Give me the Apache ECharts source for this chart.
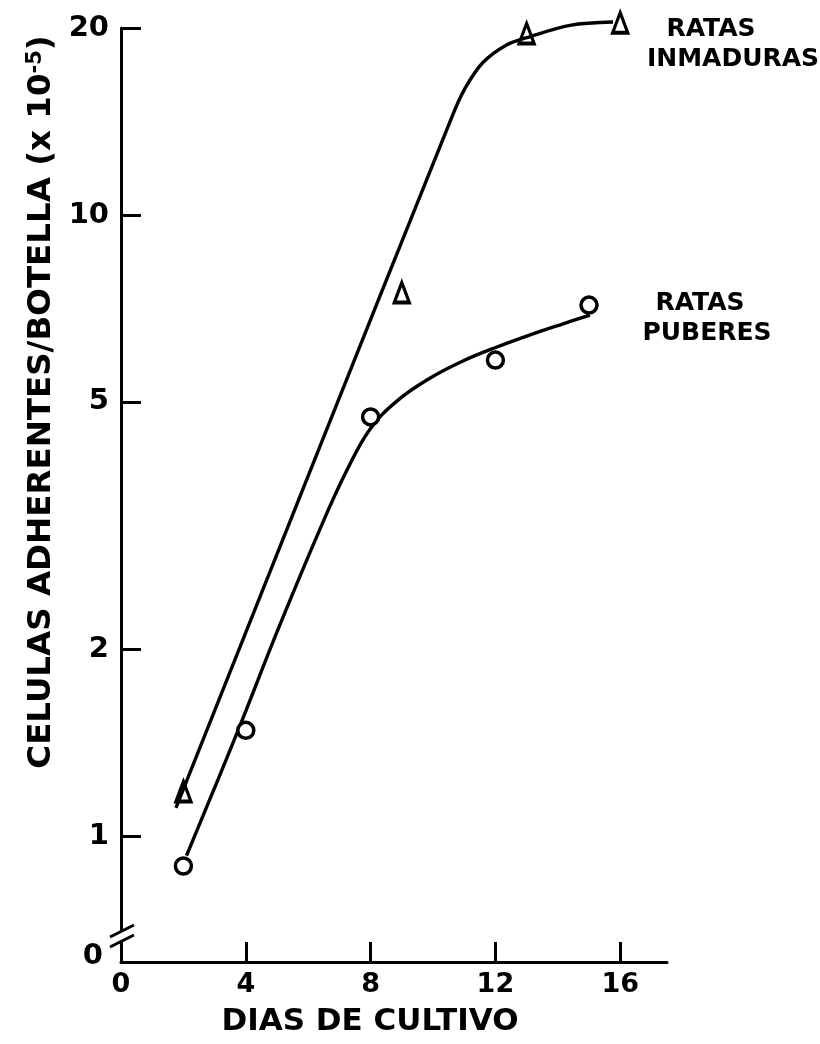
<!DOCTYPE html>
<html>
<head>
<meta charset="utf-8">
<script src="https://cdn.jsdelivr.net/npm/echarts@6/dist/echarts.min.js"></script>
<style>
  html, body { margin: 0; padding: 0; background: #fff; }
  #chart { width: 820px; height: 1044px; }
</style>
</head>
<body>
<div id="chart"></div>
<script>
// Measured points (days in culture, adherent cells per bottle x 10^-5)
const daysInmaduras = [2, 9, 13, 16];
const cellsInmaduras = [1.18, 7.5, 19.6, 20.4];
const daysPuberes = [2, 4, 8, 12, 15];
const cellsPuberes = [0.895, 1.48, 4.73, 5.84, 7.16];

// Hand-fitted growth curves through each group
const fitDaysInmaduras = [1.76, 6.0, 10.61, 11.03, 11.6, 12.37, 13.01, 14.39, 15.77];
const fitCellsInmaduras = [1.11, 3.8, 14.4, 16.0, 17.6, 18.8, 19.3, 20.2, 20.45];
const fitDaysPuberes = [2.1, 3.72, 5.03, 6.47, 7.24, 7.98, 8.85, 9.9, 10.96, 12.05, 13.11, 14.17, 15.03];
const fitCellsPuberes = [0.93, 1.466, 2.15, 3.2, 3.88, 4.52, 5.02, 5.46, 5.82, 6.13, 6.41, 6.68, 6.9];

// Axis ticks and labels
const xTickValues = [4, 8, 12, 16];
const xLabelValues = [0, 4, 8, 12, 16];
const yTickValues = [1, 2, 5, 10, 20];
const yAxisMin = 0.627;   // broken axis: bottom of the scale is labelled 0
const yAxisMax = 20;
const xAxisMax = 17.5;

const seriesNames = [['RATAS', 'INMADURAS'], ['RATAS', 'PUBERES']];
const xTitle = 'DIAS DE CULTIVO';
const yTitle = 'CELULAS ADHERENTES/BOTELLA (x 10{sup|-5})';

const FONT = 'DejaVu Sans';
const GRID = { left: 121, top: 28, right: 153, bottom: 82 };
const baseY = 1044 - GRID.bottom;

const zip = (xs, ys) => xs.map((x, i) => [x, ys[i]]);

const nameText = (text, x, y) => ({
  type: 'text',
  x: x, y: y,
  style: {
    text: text, fill: '#000', font: 'bold 25px "' + FONT + '"',
    textAlign: 'center', textVerticalAlign: 'middle'
  },
  z: 100
});

const chart = echarts.init(document.getElementById('chart'), null, { renderer: 'canvas' });

const option = {
  animation: false,
  backgroundColor: '#fff',
  grid: GRID,
  xAxis: {
    type: 'value',
    min: 0,
    max: xAxisMax,
    axisLine: { lineStyle: { color: '#000', width: 3 } },
    axisTick: { inside: true, length: 20, lineStyle: { color: '#000', width: 3 }, customValues: xTickValues },
    axisLabel: {
      customValues: xLabelValues,
      margin: 9,
      color: '#000',
      fontFamily: FONT,
      fontWeight: 'bold',
      fontSize: 27
    },
    splitLine: { show: false }
  },
  yAxis: {
    type: 'log',
    logBase: 10,
    min: yAxisMin,
    max: yAxisMax,
    axisLine: { lineStyle: { color: '#000', width: 3 } },
    axisTick: { inside: true, length: 20, lineStyle: { color: '#000', width: 3 }, customValues: yTickValues },
    axisLabel: {
      customValues: [yAxisMin].concat(yTickValues),
      margin: 12,
      color: '#000',
      fontFamily: FONT,
      fontWeight: 'bold',
      fontSize: 29,
      formatter: v => (v < 0.9 ? '{z|0}' : String(Math.round(v))),
      rich: {
        z: { fontFamily: FONT, fontWeight: 'bold', fontSize: 29, color: '#000', padding: [0, 6, 12, 0] }
      }
    },
    splitLine: { show: false }
  },
  series: [
    {
      name: 'fit-inmaduras',
      type: 'line',
      data: zip(fitDaysInmaduras, fitCellsInmaduras),
      showSymbol: false,
      smooth: 0.35,
      clip: false,
      lineStyle: { color: '#000', width: 3.4 },
      silent: true,
      z: 2
    },
    {
      name: 'fit-puberes',
      type: 'line',
      data: zip(fitDaysPuberes, fitCellsPuberes),
      showSymbol: false,
      smooth: 0.4,
      clip: false,
      lineStyle: { color: '#000', width: 3.4 },
      silent: true,
      z: 2
    },
    {
      name: 'inmaduras',
      type: 'scatter',
      data: zip(daysInmaduras, cellsInmaduras),
      symbol: 'triangle',
      symbolSize: [15, 20],
      clip: false,
      itemStyle: { color: 'rgba(255,255,255,0)', borderColor: '#000', borderWidth: 3.5, opacity: 1 },
      silent: true,
      z: 3
    },
    {
      name: 'puberes',
      type: 'scatter',
      data: zip(daysPuberes, cellsPuberes),
      symbol: 'circle',
      symbolSize: 16,
      clip: false,
      itemStyle: { color: '#fff', borderColor: '#000', borderWidth: 3.5, opacity: 1 },
      silent: true,
      z: 3
    }
  ],
  graphic: [
    // axis break on the y axis near the origin
    {
      type: 'rect',
      shape: { x: GRID.left - 5, y: baseY - 31, width: 10, height: 11 },
      style: { fill: '#fff' },
      z: 100
    },
    {
      type: 'line',
      shape: { x1: GRID.left - 11, y1: baseY - 25, x2: GRID.left + 13, y2: baseY - 37 },
      style: { stroke: '#000', lineWidth: 3 },
      z: 101
    },
    {
      type: 'line',
      shape: { x1: GRID.left - 11, y1: baseY - 15, x2: GRID.left + 13, y2: baseY - 27 },
      style: { stroke: '#000', lineWidth: 3 },
      z: 101
    },
    // axis titles
    {
      type: 'text',
      x: 370, y: 1022,
      style: {
        text: xTitle, fill: '#000', font: 'bold 31px "' + FONT + '"',
        textAlign: 'center', textVerticalAlign: 'middle'
      },
      z: 100
    },
    {
      type: 'text',
      x: 42, y: 402,
      rotation: Math.PI / 2,
      style: {
        text: yTitle, fill: '#000', fontFamily: FONT, fontWeight: 'bold', fontSize: 32.5,
        textAlign: 'center', textVerticalAlign: 'middle',
        rich: {
          sup: { fontFamily: FONT, fontWeight: 'bold', fontSize: 21, fill: '#000', verticalAlign: 'top' }
        }
      },
      z: 100
    },
    // series names
    nameText(seriesNames[0][0], 711, 29),
    nameText(seriesNames[0][1], 733, 59),
    nameText(seriesNames[1][0], 700, 303),
    nameText(seriesNames[1][1], 707, 333)
  ]
};

chart.setOption(option);
</script>
</body>
</html>
